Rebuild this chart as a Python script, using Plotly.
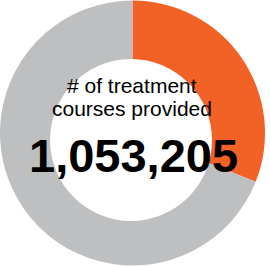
import plotly.graph_objects as go

labels = ["Provided", "Remaining"]
values = [31, 69]
colors = ["#F26126", "#BEBFC1"]
title_lines = ["# of treatment", "courses provided"]
big_number = "1,053,205"

W, H = 270, 267

fig = go.Figure()
fig.add_trace(go.Pie(
    labels=labels, values=values, sort=False, direction="clockwise", rotation=0,
    hole=0.55, marker=dict(colors=colors, line=dict(width=0)),
    textinfo="none", hoverinfo="skip", showlegend=False,
    domain=dict(x=[0, 265 / W], y=[1 - 266 / H, 1]),
))

# white centre disc (slightly offset, as in the reference)
cx, cy, r = 131, 140, 81
fig.add_shape(type="circle", xref="paper", yref="paper",
              x0=(cx - r) / W, x1=(cx + r) / W,
              y0=1 - (cy + r) / H, y1=1 - (cy - r) / H,
              fillcolor="white", line=dict(width=0), layer="above")

font = "Arial, Liberation Sans, sans-serif"
fig.add_annotation(text=title_lines[0], x=132 / W, y=1 - 85 / H, xref="paper", yref="paper",
                   showarrow=False, xanchor="center", yanchor="middle",
                   font=dict(family=font, size=21, color="black"))
fig.add_annotation(text=title_lines[1], x=132 / W, y=1 - 108 / H, xref="paper", yref="paper",
                   showarrow=False, xanchor="center", yanchor="middle",
                   font=dict(family=font, size=21, color="black"))
fig.add_annotation(text="<b>" + big_number + "</b>", x=133 / W, y=1 - 155 / H, xref="paper", yref="paper",
                   showarrow=False, xanchor="center", yanchor="middle",
                   font=dict(family=font, size=47, color="black"))

fig.update_layout(width=W, height=H, margin=dict(l=0, r=0, t=0, b=0),
                  paper_bgcolor="white", plot_bgcolor="white", hovermode=False)
fig.write_html("out.html", config={"displayModeBar": False, "staticPlot": True},
               post_script="document.body.style.margin='0';document.body.style.overflow='hidden';")
